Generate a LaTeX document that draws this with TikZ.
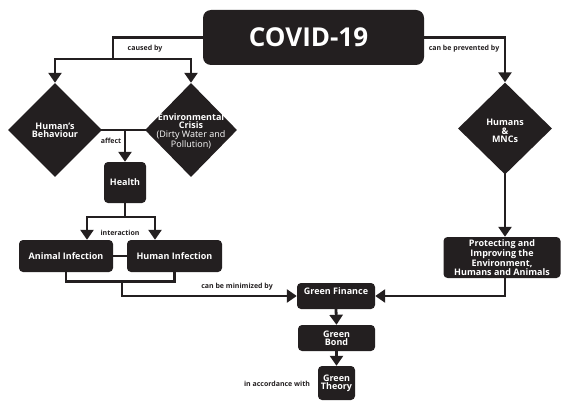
\documentclass[tikz,border=0pt]{standalone}
\usepackage{fontspec}
\setmainfont{Open Sans}
\usetikzlibrary{shapes.geometric,arrows.meta,calc}
\definecolor{ink}{HTML}{231F20}
\begin{document}
\begin{tikzpicture}[x=1pt,y=-1pt,
  conn/.style={draw=ink, line width=2.8pt, line cap=rect},
  arr/.style={conn, -{Triangle[width=13pt,length=10pt]}},
  box/.style={fill=ink, rounded corners=4pt, text=white, inner sep=0pt, align=center, font=\fontsize{9}{8.3}\selectfont\bfseries},
  dia/.style={fill=ink, diamond, inner sep=0pt, aspect=1},
  dtext/.style={text=white, align=center, font=\fontsize{9}{8.3}\selectfont\bfseries, inner sep=0pt},
  lbl/.style={text=ink, font=\fontsize{7}{8}\selectfont\bfseries, inner sep=0pt}]
\useasboundingbox (0,0) rectangle (561,401);

% nodes
\node[box, rounded corners=8pt, minimum width=221pt, minimum height=55pt, font=\fontsize{26}{30}\selectfont\bfseries] (covid) at (313.5,37.5) {COVID-19\kern10pt};

\node[dia, minimum width=94pt, minimum height=94pt] (hb) at (55,130) {};
\node[dtext] (hbt) at (hb.center) {Human's\\Behaviour};
\node[dia, minimum width=92pt, minimum height=94pt] (ec) at (191,130) {};
\node[dtext, font=\fontsize{9}{8.5}\selectfont] (ect) at (191,131) {\textbf{Environmental}\\\textbf{Crisis}\\(Dirty Water and\\Pollution)};
\node[dia, minimum width=94pt, minimum height=92pt] (hm) at (505,128.5) {};
\node[dtext] (hmt) at (505,131) {Humans\\\&\\MNCs};

\node[box, minimum width=42pt, minimum height=41pt] (health) at (125,182.5) {Health};
\node[box, minimum width=94pt, minimum height=32pt] (ai) at (66,256) {Animal Infection};
\node[box, minimum width=95pt, minimum height=32pt] (hi) at (174.5,256) {Human Infection};
\node[box, minimum width=117pt, minimum height=41pt] (prot) at (502,257.5) {Protecting and\\Improving the\\Environment,\\Humans and Animals};
\node[box, minimum width=78pt, minimum height=26pt, text height=6.5pt, text depth=10.5pt] (gf) at (336,296) {Green Finance};
\node[box, minimum width=77pt, minimum height=26pt] (gb) at (336.5,338) {Green\\Bond};
\node[box, minimum width=37pt, minimum height=34pt] (gt) at (336.5,383) {Green\\Theory};

% connectors
\coordinate (c1) at (113,59);
\draw[conn] (covid.west) -| (c1);
\draw[arr] (c1) -| (hb.north);
\draw[arr] (c1) -| (ec.north);
\draw[arr] (covid.east) -| (hm.north);
\draw[conn] (hb.east) -- (ec.west);
\draw[arr] (health.north |- hb.east) -- (health.north);
\coordinate (c2) at (125,217);
\draw[conn] (health.south) -- (c2);
\draw[arr] (c2) -| ([xshift=21pt]ai.north);
\draw[arr] (c2) -| ([xshift=-19.5pt]hi.north);
\draw[conn] (ai.east) -- (hi.west);
\draw[conn] (ai.south) -- ++(0,9) -| (hi.south);
\coordinate (c3) at (122,281);
\draw[arr] (c3) |- (gf.west);
\draw[arr] (hm.south) -- (hm.south |- prot.north);
\draw[arr] (hm.south |- prot.south) |- (gf.east);
\draw[arr] (gf.south) -- (gb.north);
\draw[arr] (gb.south) -- (gt.north);

% labels
\node[lbl] (l1) at (145,49) {caused by};
\node[lbl] (l2) at (464,49) {can be prevented by};
\node[lbl] (l3) at (111,141) {affect};
\node[lbl] (l4) at (120,233) {interaction};
\node[lbl] (l5) at (237,287) {can be minimized by};
\node[lbl] (l6) at (277,384) {in accordance with};
\end{tikzpicture}
\end{document}
